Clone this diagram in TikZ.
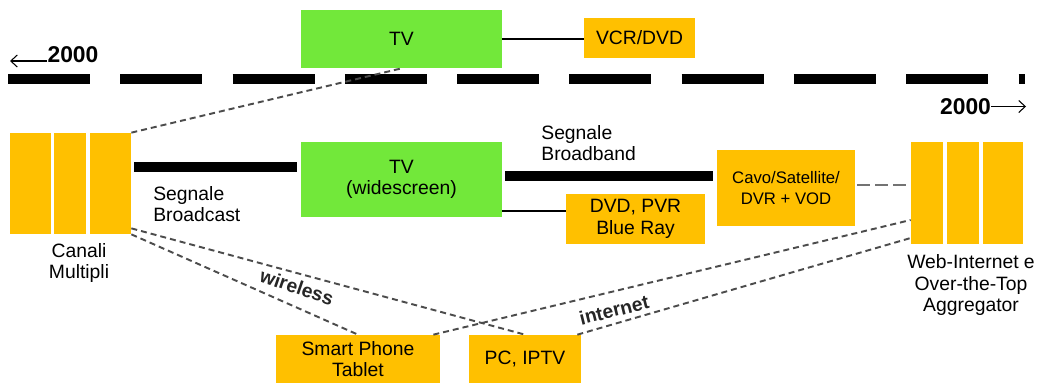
\documentclass[tikz,border=0pt]{standalone}
\usepackage{fontspec}
\setmainfont{Liberation Sans}
\usetikzlibrary{arrows.meta, positioning, calc}
\definecolor{tvgreen}{HTML}{72E83A}
\definecolor{boxorange}{HTML}{FFC000}

\begin{document}
\begin{tikzpicture}[
  x=0.02cm, y=-0.02cm,
  font=\fontsize{11}{12.3}\selectfont,
  sz/.style 2 args={minimum width=#1*0.02cm, minimum height=#2*0.02cm},
  box/.style={rectangle, fill=boxorange, inner sep=0pt, align=center},
  tvbox/.style={box, fill=tvgreen},
  txt/.style={inner sep=0pt, align=center},
  year/.style={inner sep=0pt, font=\fontsize{13}{15}\selectfont\bfseries},
  yeararrow/.style={-{Straight Barb[length=0.13cm, width=0.24cm]}, line width=0.6pt},
  timeline/.style={line width=0.2cm, dash pattern=on 1.64cm off 0.606cm},
  signal/.style={line width=0.2cm, shorten <=0.06cm, shorten >=0.07cm},
  wire/.style={line width=0.7pt},
  link/.style={line width=1.1pt, black!70, dash pattern=on 0.12cm off 0.08cm},
  cablelink/.style={line width=1.6pt, black!55, dash pattern=on 0.26cm off 0.1cm},
  linklabel/.style={inner sep=0pt, font=\fontsize{11}{13}\selectfont\bfseries, black!85},
]
  \useasboundingbox (0,0) rectangle (1040,383);

  % timeline
  \coordinate (tl-a) at (8,79);
  \coordinate (tl-b) at (1025,79);
  \draw[timeline] (tl-a) -- (tl-b);
  \node[year] (yearL) at (73,55) {2000};
  \coordinate (pastend) at (10,61);
  \draw[yeararrow] (pastend -| yearL.west) -- (pastend);
  \node[year] (yearR) at (965.5,106.5) {2000};
  \coordinate (futend) at (1026,106.5);
  \draw[yeararrow] (yearR.east) -- (futend);

  % boxes
  \node[tvbox, sz={201}{58}] (tvold) at (401.5,39) {TV};
  \node[box, sz={111}{40}] (vcr) at (639.5,38) {VCR/DVD};
  \node[tvbox, sz={201}{75}] (tvwide) at (401.5,179.5) {TV\\(widescreen)};
  \node[box, sz={139}{50}] (dvd) at (635.5,219) {DVD, PVR\\Blue Ray};
  \node[box, sz={138}{76}, font=\fontsize{9.5}{12.3}\selectfont] (cavo) at (786,188) {Cavo/Satellite/\\DVR + VOD};
  \node[box, sz={164}{48}] (smart) at (358,359) {Smart Phone\\Tablet};
  \node[box, sz={112}{48}] (pc) at (525,359) {PC, IPTV};

  % channel blocks
  \node[box, sz={41}{101}] (can1) at (30.5,183.5) {};
  \node[box, sz={32}{101}] (can2) at (70,183.5) {};
  \node[box, sz={41}{101}] (can3) at (110.5,183.5) {};
  \node[box, sz={32}{102}] (web1) at (927,193) {};
  \node[box, sz={32}{102}] (web2) at (963,193) {};
  \node[box, sz={40}{102}] (web3) at (1003,193) {};

  % labels
  \node[txt] (canlbl) at (79,263) {Canali\\Multipli};
  \node[txt] (weblbl) at (971,285) {Web-Internet e\\Over-the-Top\\Aggregator};
  \node[txt, align=left, anchor=west] (bcast) at (153,204) {Segnale\\Broadcast};
  \node[txt, align=left, anchor=west] (bband) at (541,143) {Segnale\\Broadband};

  % signals
  \coordinate (bcast-y) at ($(can3.east)+(0,-16.5)$);
  \draw[signal] (bcast-y) -- (bcast-y -| tvwide.west);
  \coordinate (bband-y) at ($(tvwide.east)+(0,-4)$);
  \draw[signal] (bband-y) -- (bband-y -| cavo.west);
  \draw[wire] (tvold.east) -- (tvold.east -| vcr.west);
  \coordinate (dvd-y) at ($(tvwide.east)+(0,31.5)$);
  \draw[wire] (dvd-y) -- (dvd-y -| dvd.west);

  % dashed links
  \draw[link] (can3.north east) -- (tvold.south);
  \draw[link] ([yshift=0.12cm]can3.south east) -- (pc.north);
  \draw[link] (can3.south east) -- (smart.north);
  \draw[link] ([xshift=-0.14cm]smart.north east) -- ($(web1.west)+(0,27)$);
  \draw[link] ([xshift=-0.08cm]pc.north east) -- ($(web1.west)+(0,45)$);
  \draw[cablelink] ($(cavo.east)+(2,-3)$) -- ($(web1.west)+(-2,-8)$);
  \node[linklabel, rotate=-19] (wireless) at (297,287) {wireless};
  \node[linklabel, rotate=14] (internet) at (614,310) {internet};
\end{tikzpicture}
\end{document}
